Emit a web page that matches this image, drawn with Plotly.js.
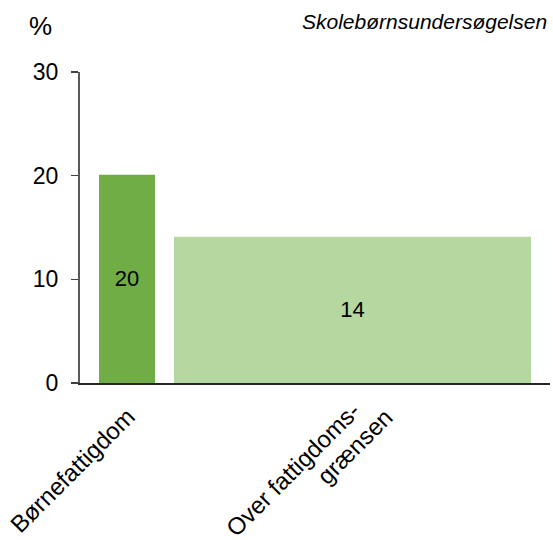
<!DOCTYPE html>
<html><head><meta charset="utf-8">
<script src="https://cdn.plot.ly/plotly-3.0.1.min.js"></script>
<style>body{margin:0;padding:0;background:#fff}</style>
</head><body>
<div id="chart" style="width:553px;height:540px"></div>
<script>
var categories = ["Børnefattigdom", "Over fattigdoms-<br>grænsen"];
var values = [20.1, 14.1];
var valueLabels = ["20", "14"];
var barWidths = [56, 357];
var barColors = ["#70ad47", "#b5d7a0"];
var yTicks = [0, 10, 20, 30];

var gap = 19;
var centers = [];
var pos = gap;
for (var i = 0; i < barWidths.length; i++) {
  centers.push(pos + barWidths[i] / 2);
  pos += barWidths[i] + gap;
}
var total = pos;

// per-line pixel offsets (centre of rotated label line relative to tick on axis)
var lineOffsets = [
  [[-55, -87]],
  [[-60, -86], [2, -63]]
];

var trace = {
  type: "bar",
  x: centers,
  y: values,
  width: barWidths,
  marker: {color: barColors, line: {width: 0}},
  text: valueLabels,
  textposition: "inside",
  insidetextanchor: "middle",
  textangle: 0,
  textfont: {family: "Liberation Sans, Arial, sans-serif", size: 22, color: "#000"},
  hoverinfo: "skip"
};

var annotations = [
  {text: "%", xref: "paper", yref: "paper", x: -0.112, y: 1.148, xanchor: "left", yanchor: "middle",
   showarrow: false, font: {size: 26, color: "#000"}},
  {text: "<i>Skolebørnsundersøgelsen</i>", xref: "paper", yref: "paper", x: 0.997, y: 1.161, xanchor: "right", yanchor: "middle",
   showarrow: false, font: {size: 21, color: "#000"}}
];
for (var c = 0; c < categories.length; c++) {
  var lines = categories[c].split("<br>");
  for (var l = 0; l < lines.length; l++) {
    annotations.push({
      text: lines[l], xref: "x", yref: "paper", x: centers[c], y: 0,
      xanchor: "center", yanchor: "middle", textangle: -45, borderpad: 0,
      xshift: lineOffsets[c][l][0], yshift: lineOffsets[c][l][1],
      showarrow: false, font: {size: 24, color: "#000"}
    });
  }
}

var layout = {
  width: 553, height: 540,
  margin: {l: 80, r: 3, t: 72, b: 157},
  paper_bgcolor: "#fff", plot_bgcolor: "#fff",
  showlegend: false,
  font: {family: "Liberation Sans, Arial, sans-serif", size: 22, color: "#000"},
  xaxis: {
    range: [0, total],
    tickmode: "array", tickvals: centers, showticklabels: false,
    ticks: "", showgrid: false, zeroline: false,
    showline: true, linecolor: "#262626", linewidth: 2,
    fixedrange: true
  },
  yaxis: {
    range: [0, 30],
    tickmode: "array", tickvals: yTicks,
    ticks: "outside", ticklen: 7, tickwidth: 1.5, tickcolor: "#404040",
    showgrid: false, zeroline: false,
    showline: true, linecolor: "#595959", linewidth: 2,
    tickfont: {size: 23, color: "#000"},
    ticklabelstandoff: 8,
    fixedrange: true
  },
  annotations: annotations
};

Plotly.newPlot("chart", [trace], layout, {displayModeBar: false, staticPlot: true});
</script>
</body></html>
